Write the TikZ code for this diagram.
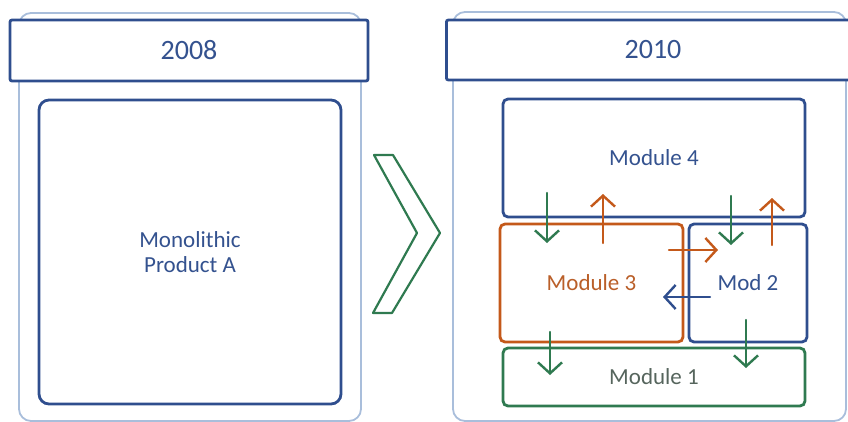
\documentclass[tikz,border=0pt]{standalone}
\usepackage{fontspec}
\setmainfont{Carlito}
\usetikzlibrary{arrows.meta}
\definecolor{dkblue}{HTML}{2F4E8E}
\definecolor{txtblue}{HTML}{34528F}
\definecolor{ltblue}{HTML}{A9BEDB}
\definecolor{grn}{HTML}{2F7A50}
\definecolor{org}{HTML}{C4591A}
\definecolor{gtxt}{HTML}{56655D}
\tikzset{
  panel/.style={draw=ltblue, line width=1.8pt, rounded corners=12pt},
  header/.style={draw=dkblue, line width=2.8pt, fill=white, rounded corners=2pt,
    text=txtblue, font=\fontsize{28}{30}\selectfont},
  box/.style={draw=#1, line width=2.8pt, rounded corners=5pt, fill=white,
    font=\fontsize{23}{27}\selectfont, align=center, inner sep=0pt},
  flow/.style={line width=2.4pt, line cap=round,
    -{Straight Barb[length=11pt,width=24pt,line width=2.4pt]}},
}
\begin{document}
\begin{tikzpicture}[x=1pt,y=-1pt]
\useasboundingbox (0,0) rectangle (848,421);
\clip (0,0) rectangle (848,421);

% outer light frames of the two panels
\draw[panel] (19,13) rectangle (361,421);
\draw[panel] (453,12) rectangle (846,421);

% year headers
\node[header, minimum width=358pt, minimum height=61pt] (h1) at (189,50.5) {2008};
\node[header, minimum width=420pt, minimum height=60pt, anchor=west] (h2) at (445,50) {};
\node[text=txtblue, font=\fontsize{28}{30}\selectfont] (y2) at (653,50) {2010};

% monolithic product
\node[box=dkblue, text=txtblue, minimum width=302pt, minimum height=304pt,
  rounded corners=10pt] (mono) at (190,252) {Monolithic\\[-2pt]Product A};

% chevron between the panels
\draw[grn, line width=2.2pt, line join=round] (374,155) -- (393,155) -- (440,233)
  -- (392,313) -- (373,313) -- (417,233) -- cycle;

% modules
\node[box=dkblue, text=txtblue, minimum width=302pt, minimum height=118pt] (m4) at (654,158) {Module 4};
\node[box=org, text=org!85!gray, minimum width=183pt, minimum height=118pt] (m3) at (591.5,283) {Module 3};
\node[box=dkblue, text=txtblue, minimum width=118pt, minimum height=118pt] (m2) at (748,283) {Mod 2};
\node[box=grn, text=gtxt, minimum width=302pt, minimum height=58pt] (m1) at (654,377) {Module 1};

% arrow end points
\coordinate (a1s) at (547,193); \coordinate (a1e) at (547,243);
\coordinate (a2s) at (603,243); \coordinate (a2e) at (603,194);
\coordinate (a3s) at (731,196); \coordinate (a3e) at (731,245);
\coordinate (a4s) at (772,245); \coordinate (a4e) at (772,198);
\coordinate (a5s) at (669,250); \coordinate (a5e) at (718,250);
\coordinate (a6s) at (710,297); \coordinate (a6e) at (663,297);
\coordinate (a7s) at (550,332); \coordinate (a7e) at (550,375);
\coordinate (a8s) at (746,320); \coordinate (a8e) at (746,368);

\draw[flow, grn] (a1s) -- (a1e);
\draw[flow, org] (a2s) -- (a2e);
\draw[flow, grn] (a3s) -- (a3e);
\draw[flow, org] (a4s) -- (a4e);
\draw[flow, org] (a5s) -- (a5e);
\draw[flow, dkblue] (a6s) -- (a6e);
\draw[flow, grn] (a7s) -- (a7e);
\draw[flow, grn] (a8s) -- (a8e);
\end{tikzpicture}
\end{document}
